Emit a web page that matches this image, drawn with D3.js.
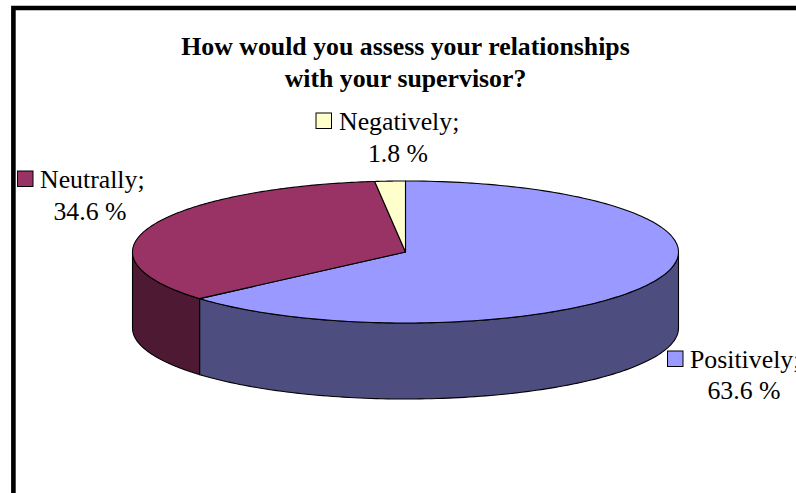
<!DOCTYPE html>
<html><head><meta charset="utf-8">
<script src="https://cdn.jsdelivr.net/npm/d3@7"></script>
<style>html,body{margin:0;padding:0;background:#fff;overflow:hidden}svg{display:block}text{font-family:"Liberation Serif",serif;fill:#000}</style>
</head><body><svg id="c" width="796" height="493"></svg>
<script>
const categories = ["Positively", "Neutrally", "Negatively"];
const values = [63.6, 34.6, 1.8];
const valueLabels = ["63.6 %", "34.6 %", "1.8 %"];
const topColors = ["#9999ff", "#993366", "#ffffcc"];
const sideColors = ["#4d4d80", "#4d1933", "#808066"];
const titleLines = ["How would you assess your relationships", "with your supervisor?"];

const svg = d3.select("#c");
const cx = 405.5, cy = 252, rx = 273, ry = 71, depth = 76;
const pt = (a, dy = 0) => [cx + rx * Math.sin(a), cy - ry * Math.cos(a) + dy];

svg.append("path").attr("d", "M13.4,493V8H796").attr("fill", "none").attr("stroke", "#000").attr("stroke-width", 4.6);

const arcs = d3.pie().sort(null)(values);
const line = d3.line();
const visible = d => [Math.max(d.startAngle, Math.PI / 2), Math.min(d.endAngle, 1.5 * Math.PI)];

// side walls
svg.append("g").selectAll("path").data(arcs.filter(d => visible(d)[0] < visible(d)[1])).join("path")
  .attr("d", d => {
    const [a0, a1] = visible(d);
    const as = d3.range(0, 121).map(i => a0 + (a1 - a0) * i / 120);
    return line(as.map(a => pt(a)).concat(as.slice().reverse().map(a => pt(a, depth)))) + "Z";
  })
  .attr("fill", d => sideColors[d.index]).attr("stroke", "#000").attr("stroke-width", 1.1).attr("stroke-linejoin", "round");

// top slices
svg.append("g").selectAll("path").data(arcs).join("path")
  .attr("d", d => {
    const n = 180;
    const as = d3.range(0, n + 1).map(i => d.startAngle + (d.endAngle - d.startAngle) * i / n);
    return line([[cx, cy]].concat(as.map(a => pt(a)))) + "Z";
  })
  .attr("fill", d => topColors[d.index]).attr("stroke", "#000").attr("stroke-width", 1.1).attr("stroke-linejoin", "round");

// title
svg.append("g").selectAll("text").data(titleLines).join("text")
  .attr("x", 405.5).attr("y", (d, i) => 55 + i * 32)
  .attr("text-anchor", "middle").attr("font-size", 25.8).attr("font-weight", "bold").text(d => d);

// labels
const labelPos = [
  {sx: 667.5, sy: 351, tx: 690, ty: 368, vx: 744, vy: 399},
  {sx: 17.5, sy: 171, tx: 40, ty: 188, vx: 90, vy: 220},
  {sx: 316, sy: 113, tx: 339, ty: 130, vx: 398, vy: 162}
];
const lab = svg.append("g").selectAll("g").data(categories).join("g");
lab.append("rect").attr("x", (d, i) => labelPos[i].sx).attr("y", (d, i) => labelPos[i].sy)
  .attr("width", 15.5).attr("height", 15.5).attr("fill", (d, i) => topColors[i]).attr("stroke", "#000").attr("stroke-width", 1);
lab.append("text").attr("x", (d, i) => labelPos[i].tx).attr("y", (d, i) => labelPos[i].ty).attr("font-size", 25.8).text(d => d + ";");
lab.append("text").attr("x", (d, i) => labelPos[i].vx).attr("y", (d, i) => labelPos[i].vy).attr("text-anchor", "middle").attr("font-size", 25.8).text((d, i) => valueLabels[i]);
</script></body></html>
